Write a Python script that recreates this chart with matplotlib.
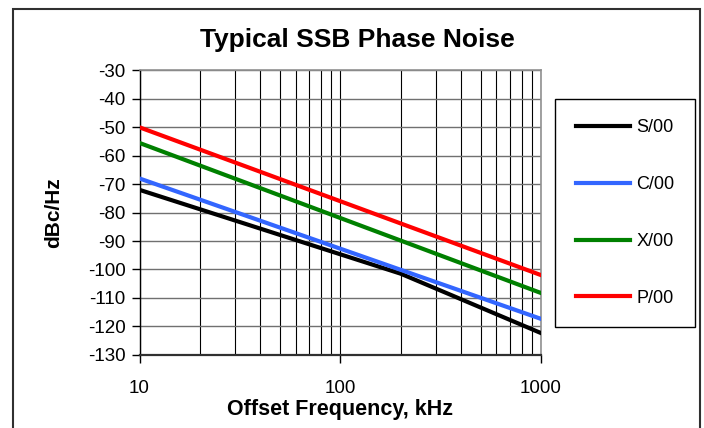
import matplotlib
matplotlib.use("Agg")
import matplotlib.pyplot as plt
from matplotlib.patches import Rectangle
from matplotlib.ticker import FixedLocator, NullFormatter

plt.rcParams['font.family'] = ['Liberation Sans', 'DejaVu Sans']
plt.rcParams['axes.unicode_minus'] = False

# datos (frecuencia en kHz, ruido en dBc/Hz)
freq_s = [10, 200, 1000]
ruido_s = [-72, -101.5, -122.4]
freq = [10, 1000]
ruido_c = [-68, -117.4]
ruido_x = [-55.5, -108.3]
ruido_p = [-50, -102]

etiquetas = ['S/00', 'C/00', 'X/00', 'P/00']
colores = ['#000000', '#3366FF', '#008000', '#FF0000']

fig = plt.figure(figsize=(7.04, 4.28), dpi=100)
ax = fig.add_axes([0.1982, 0.1713, 0.5703, 0.664])

ax.plot(freq_s, ruido_s, color=colores[0], linewidth=3, label=etiquetas[0], zorder=5)
ax.plot(freq, ruido_c, color=colores[1], linewidth=3, label=etiquetas[1], zorder=5)
ax.plot(freq, ruido_x, color=colores[2], linewidth=3, label=etiquetas[2], zorder=5)
ax.plot(freq, ruido_p, color=colores[3], linewidth=3, label=etiquetas[3], zorder=5)

ax.set_xscale('log')
ax.set_xlim(10, 1000)
ax.set_ylim(-130, -30)
ax.set_yticks(range(-130, -29, 10))
ax.set_xticks([10, 100, 1000])
ax.set_xticklabels(['10', '100', '1000'])
ax.xaxis.set_minor_locator(FixedLocator([i * 10 for i in range(2, 10)] + [i * 100 for i in range(2, 10)]))
ax.xaxis.set_minor_formatter(NullFormatter())

ax.grid(True, which='major', axis='y', color='#707070', linewidth=1)
ax.grid(True, which='both', axis='x', color='#000000', linewidth=0.8)

ax.tick_params(axis='both', which='major', direction='out', length=6, width=1,
               labelsize=13.5, color='black')
ax.tick_params(axis='y', pad=4)
ax.tick_params(axis='x', pad=12)
ax.tick_params(axis='x', which='minor', length=0)

for lado in ['top', 'right']:
    ax.spines[lado].set_color('#909090')
    ax.spines[lado].set_linewidth(1.2)
ax.spines['left'].set_color('black')
ax.spines['left'].set_linewidth(1)
ax.spines['bottom'].set_color('#303030')
ax.spines['bottom'].set_linewidth(1.6)

fig.text(357 / 704, 1 - 47 / 428, 'Typical SSB Phase Noise', fontsize=19,
         fontweight='bold', ha='center', va='baseline')
ax.set_xlabel('Offset Frequency, kHz', fontsize=15.5, fontweight='bold', labelpad=2)
ax.set_ylabel('dBc/Hz', fontsize=15, fontweight='bold', labelpad=18)

leg = ax.legend(loc='upper left', bbox_to_anchor=(555 / 704, 1 - 98.7 / 428),
                bbox_transform=fig.transFigure, borderaxespad=0,
                fontsize=13, handlelength=3.0, handletextpad=0.35,
                borderpad=1.15, labelspacing=2.2, fancybox=False, framealpha=1,
                edgecolor='black')
leg.get_frame().set_linewidth(1)

# marco exterior del grafico
marco = Rectangle((13 / 704, -0.05), (700 - 13) / 704, 1.05 - 9 / 428,
                  transform=fig.transFigure, fill=False, edgecolor='#303030',
                  linewidth=1.5, clip_on=False)
fig.patches.append(marco)

fig.savefig('out.png', dpi=100)
